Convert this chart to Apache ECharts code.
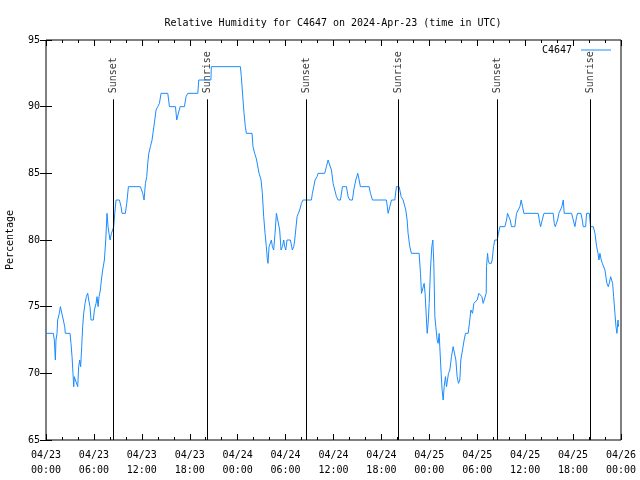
<!DOCTYPE html>
<html><head><meta charset="utf-8">
<script src="https://cdn.jsdelivr.net/npm/echarts@6/dist/echarts.min.js"></script>
<style>html,body{margin:0;padding:0;background:#fff}#c{width:640px;height:480px}</style>
</head><body><div id="c"></div>
<script>
// hours since 2024-04-23 00:00 UTC
const hours = [0.00,0.92,1.04,1.17,1.25,1.38,1.46,1.67,1.80,2.00,2.17,2.34,2.42,3.01,3.13,3.26,3.38,3.47,3.55,3.68,3.84,3.97,4.09,4.22,4.34,4.47,4.59,4.72,4.89,5.05,5.22,5.35,5.51,5.64,5.93,6.06,6.27,6.39,6.52,6.64,6.81,6.93,7.10,7.31,7.48,7.64,7.77,7.89,8.02,8.19,8.35,8.48,8.61,8.77,9.19,9.40,9.52,9.94,10.11,10.32,11.82,12.11,12.28,12.45,12.61,12.74,12.87,13.07,13.28,13.45,13.62,13.78,13.99,14.20,14.41,15.25,15.46,16.21,16.37,16.62,16.79,17.33,17.54,17.75,19.01,19.13,20.65,20.70,
24.34,24.46,24.67,24.80,24.96,25.09,25.80,25.92,26.13,26.34,26.55,26.68,26.93,27.09,27.26,27.43,27.59,27.72,27.80,27.93,28.10,28.22,28.35,28.51,28.68,28.85,29.10,29.26,29.43,29.60,29.77,29.89,30.02,30.18,30.60,30.85,31.02,31.14,31.27,31.44,31.60,31.77,31.98,32.19,33.23,33.36,33.53,33.69,33.94,34.07,34.90,35.11,35.32,35.53,35.74,35.95,36.16,36.37,36.58,36.87,37.12,37.62,37.83,38.04,38.37,38.54,38.79,39.04,39.21,39.37,40.46,40.63,40.88,42.63,42.84,43.05,43.26,43.68,43.88,44.22,44.47,44.72,
44.93,45.05,45.22,45.34,45.55,45.76,46.72,46.89,47.02,47.22,47.35,47.47,47.64,47.73,47.85,47.98,48.14,48.31,48.44,48.56,48.69,48.81,48.98,49.10,49.23,49.31,49.48,49.60,49.73,49.86,50.02,50.15,50.27,50.40,50.57,50.77,50.98,51.19,51.32,51.48,51.65,51.82,51.94,52.15,52.36,52.53,52.86,53.07,53.20,53.41,53.57,53.82,53.99,54.20,54.41,54.58,54.74,54.99,55.12,55.16,55.29,55.37,55.49,55.75,55.87,56.04,56.20,56.50,56.66,56.83,57.46,57.67,57.79,58.00,58.13,58.29,58.71,58.92,59.13,59.34,59.50,59.67,59.84,61.63,61.84,61.93,62.18,62.35,63.51,63.64,63.77,63.93,64.06,64.22,64.43,64.60,64.77,64.89,65.81,66.02,66.23,66.44,66.56,66.98,67.15,67.27,67.57,67.69,68.03,68.19,68.53,68.74,68.95,69.12,69.24,69.36,69.53,69.66,69.86,69.99,70.11,70.24,70.41,70.53,70.70,70.83,70.95,71.08,71.24,71.37,71.49,71.62,71.70];
const humidity = [73,73,72.5,71,72.5,73,74,74.5,75,75,74,73.5,73,73,72.25,71.25,70,69,69.75,69.5,69.5,69,70.5,71,70.5,72,73.5,74.5,75.25,75.75,76,75.5,75,74,74,74.75,75.25,75.75,75,75.75,76.25,77,77.75,78.5,80,82,81,80.5,80,80.5,80.75,81,82,83,83,82.5,82,82,82.75,84,84,83.5,83,84.25,84.75,85.75,86.5,87,87.5,88.25,89,89.75,90,90.25,91,91,90,90,89,89.6,90,90,90.75,91,91,92,92,93,
93,92.25,90.5,89.5,88.5,88,88,87,86.5,86.1,86,85,84.5,83.5,81.75,80.5,79.5,78.5,78.25,79.5,79.5,80,79.5,79.25,80.5,82,82,80.75,79.25,79.5,80,79.5,79.25,80,80,79.25,79.5,80,80.75,81.75,82,82.25,82.75,83,83,83.5,84,84.5,84.75,85,85,85.5,86,86,85.25,84.25,83.75,83.25,83,83,84,84,83.25,83,83,83.75,84.5,85,84.5,84,84,83.5,83,83,82,82.5,83,83,84,84,83.25,83,
83,82.25,81.5,80.5,79.5,79,79,77.5,76,76,76.75,76,74,73,73.75,75.25,77.75,79.5,80,78.25,74.25,73.5,72.5,72.25,73,72,70,68.75,68,69,69.75,69,69.5,70,70.25,71.25,72,72,71,69.75,69.25,69.5,71,71.75,72.5,73,73,74,74.75,74.5,75.25,75.25,75.5,76,76,75.75,75.25,75.25,76,78,79,78.5,78.25,78.25,78.5,79.5,80,80,80.5,81,81,81.5,82,82,81.5,81,81,82,82,82.5,83,82.5,82,82,81.25,81,81,82,82,81.25,81,81,81.5,82,82,82.5,83,82,82,81.5,81,81.75,82,82,81.5,81,81,82,82,81,81,80.5,79.5,79,78.5,79,78.5,78.25,78.25,77.75,77.25,76.75,76.5,76.75,77.25,77.25,76.75,75.75,74.5,73.5,73,74,73.5];
const sunHours = [8.46,20.15,32.56,44.14,56.50,68.16];
const sunNames = ['Sunset','Sunrise','Sunset','Sunrise','Sunset','Sunrise'];
const yTicks = [65,70,75,80,85,90,95];

const FONT = 'DejaVu Sans Mono';
const chart = echarts.init(document.getElementById('c'), null, {renderer:'canvas'});
const lineData = hours.map((h,i)=>[h,humidity[i]]);
const sunLines = sunHours.map(h=>[{coord:[h,65]},{coord:[h,90.55]}]);
const sunLabels = sunHours.map((h,i)=>({value:[h,91.0],name:sunNames[i]}));
function fmt(v){
  const d = 23+Math.floor(v/24+1e-9);
  const hh = Math.round(v-24*(d-23));
  return '04/'+String(d).padStart(2,'0')+'\n'+String(hh).padStart(2,'0')+':00';
}
const axisCommon = {
  axisLine:{show:false}, splitLine:{show:false},
  axisTick:{inside:true,length:6,lineStyle:{color:'#000'}},
  minorTick:{show:true,splitNumber:3,length:3,lineStyle:{color:'#000'}}
};
chart.setOption({
  animation:false,
  backgroundColor:'#fff',
  textStyle:{fontFamily:FONT},
  title:{text:'Relative Humidity for C4647 on 2024-Apr-23 (time in UTC)',left:328,top:13,textAlign:'center',
    textStyle:{fontFamily:FONT,fontSize:10,fontWeight:'normal',color:'#000'}},
  legend:{show:true,right:29,top:45,padding:0,align:'right',itemWidth:30,itemHeight:1,itemGap:4,
    textStyle:{fontFamily:FONT,fontSize:10,color:'#000',padding:[0,4,0,0]},
    data:[{name:'C4647',icon:'rect'}]},
  grid:{left:46,right:19,top:40,bottom:40,show:true,borderColor:'#000',borderWidth:1,containLabel:false,outerBoundsMode:'none'},
  xAxis:[{type:'value',min:0,max:72,interval:6,...axisCommon,
     axisLabel:{formatter:fmt,color:'#000',fontFamily:FONT,fontSize:10,lineHeight:15,margin:8}},
    {type:'value',position:'top',min:0,max:72,interval:6,...axisCommon,axisLabel:{show:false}}],
  yAxis:[{type:'value',min:65,max:95,interval:5,name:'Percentage',nameLocation:'middle',nameGap:31,
     nameTextStyle:{fontFamily:FONT,fontSize:10,color:'#000'},
     axisLine:{show:false},splitLine:{show:false},
     axisTick:{inside:true,length:6,lineStyle:{color:'#000'}},
     axisLabel:{color:'#000',fontFamily:FONT,fontSize:10,margin:6}},
    {type:'value',position:'right',min:65,max:95,interval:5,axisLine:{show:false},splitLine:{show:false},
     axisTick:{inside:true,length:6,lineStyle:{color:'#000'}},axisLabel:{show:false}}],
  series:[
    {name:'C4647',type:'line',data:lineData,symbol:'none',lineStyle:{color:'#1a8cff',width:1},itemStyle:{color:'#1a8cff'},
     markLine:{silent:true,symbol:['none','none'],label:{show:false},lineStyle:{color:'#000',width:1,type:'solid'},data:sunLines}},
    {name:'sun',type:'scatter',data:sunLabels,symbolSize:0,silent:true,
     label:{show:true,formatter:p=>p.name,rotate:90,position:[0,0],align:'left',verticalAlign:'middle',
       fontFamily:FONT,fontSize:10,color:'#000'}}
  ]
});
</script></body></html>
